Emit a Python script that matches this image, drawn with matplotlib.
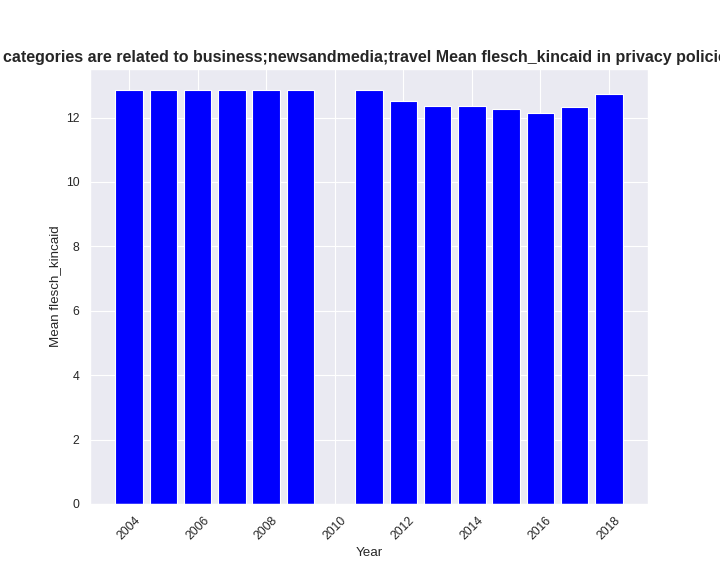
import numpy as np
import matplotlib
matplotlib.use('Agg')
import matplotlib.pyplot as plt
import seaborn as sns

sns.set_theme()
plt.rcParams['font.family'] = ['sans-serif']
plt.rcParams['font.sans-serif'] = ['Arial', 'Liberation Sans', 'DejaVu Sans']

years = [2004, 2005, 2006, 2007, 2008, 2009, 2011, 2012, 2013, 2014, 2015, 2016, 2017, 2018]
mean_fk = [12.86, 12.86, 12.86, 12.86, 12.86, 12.86, 12.86, 12.52, 12.36, 12.36, 12.27, 12.14, 12.33, 12.73]
title = 'categories are related to business;newsandmedia;travel Mean flesch_kincaid in privacy policies'

fig = plt.figure(figsize=(9, 7.2), dpi=80)
ax = fig.add_subplot(111)
fig.subplots_adjust(bottom=0.125)

ax.bar(years, mean_fk, color='blue')
ax.set_xlabel('Year')
ax.set_ylabel('Mean flesch_kincaid')
ax.set_title(title, fontweight='bold', fontsize=14.4)
plt.xticks(rotation=45)

plt.savefig('out.png')
